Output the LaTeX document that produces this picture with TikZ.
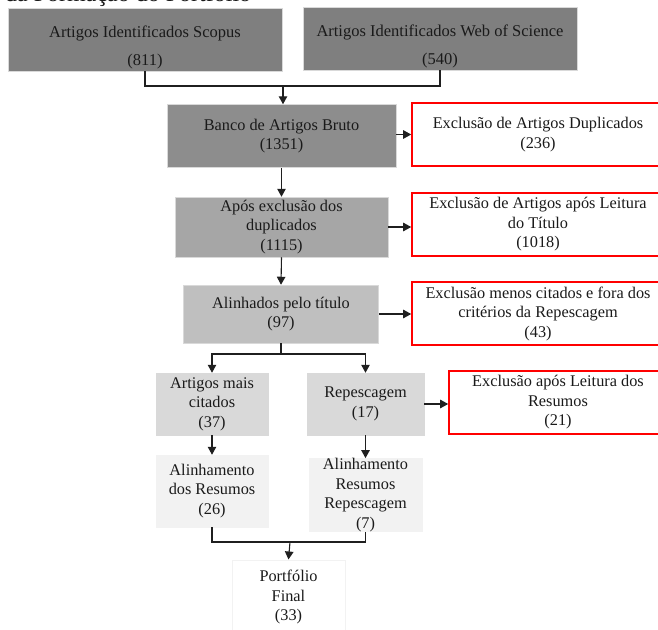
\documentclass[tikz,border=0pt]{standalone}
\usepackage{fontspec}
\setmainfont{Liberation Serif}
\usetikzlibrary{arrows.meta}
\definecolor{txt}{HTML}{1A1A1A}
\definecolor{gA}{HTML}{7F7F7F}
\definecolor{gB}{HTML}{8D8D8D}
\definecolor{gC}{HTML}{A6A6A6}
\definecolor{gD}{HTML}{BFBFBF}
\definecolor{gE}{HTML}{D9D9D9}
\definecolor{gF}{HTML}{F2F2F2}
\definecolor{redb}{HTML}{FF0000}
\definecolor{lnk}{HTML}{1F1F1F}
\tikzset{
  box/.style={rectangle, inner sep=0pt, align=center, text=txt,
    font=\fontsize{16.3}{19.5}\selectfont, draw=white!85!black, line width=0.5pt},
  topbox/.style={box, fill=gA, minimum width=274pt, minimum height=63pt,
    font=\fontsize{16.5}{28}\selectfont},
  redbox/.style={box, draw=redb, line width=1.6pt, fill=white},
  conn/.style={draw=lnk, line width=1.1pt},
  arr/.style={conn, -{Triangle[length=8pt,width=8.5pt]}}
}
\begin{document}
\begin{tikzpicture}[x=1pt,y=-1pt]
\useasboundingbox (0,0) rectangle (658,629);
\node[anchor=base west, font=\fontsize{24}{28}\selectfont, text=txt, inner sep=0pt] (title) at (5,1.5) {da Formação do Portfólio};
\node[topbox] (scopus) at (145,39.5) {\rule{0pt}{28pt}Artigos Identificados Scopus\\(811)};
\node[topbox] (wos) at (440,38.5) {\rule{0pt}{28pt}Artigos Identificados Web of Science\\(540)};
\node[box, fill=gB, minimum width=229pt, minimum height=63pt] (banco) at (281.5,136) {Banco de Artigos Bruto\\(1351)};
\node[redbox, minimum width=252pt, minimum height=63pt] (dup) at (538,134.5) {Exclusão de Artigos Duplicados\\(236)};
\node[box, fill=gC, minimum width=213pt, minimum height=60pt] (apos) at (281.5,227) {Após exclusão dos\\duplicados\\(1115)};
\node[redbox, minimum width=252pt, minimum height=63pt] (tit) at (538,224.5) {Exclusão de Artigos após Leitura\\do Título\\(1018)};
\node[box, fill=gD, minimum width=195pt, minimum height=58pt] (alin) at (281,314) {Alinhados pelo título\\(97)};
\node[redbox, minimum width=252pt, minimum height=63pt] (menos) at (538,313.5) {Exclusão menos citados e fora dos\\critérios da Repescagem\\(43)};
\node[box, fill=gE, minimum width=112pt, minimum height=62pt] (mais) at (212,404) {Artigos mais\\citados\\(37)};
\node[box, fill=gE, minimum width=117pt, minimum height=62pt] (rep) at (365.5,404) {Repescagem\\(17)};
\node[redbox, minimum width=218pt, minimum height=63pt] (resum) at (558,402.5) {Exclusão após Leitura dos\\Resumos\\(21)};
\node[box, fill=gF, draw=gF, minimum width=112pt, minimum height=72pt] (alres) at (212,491) {Alinhamento\\dos Resumos\\(26)};
\node[box, fill=gF, draw=gF, minimum width=113pt, minimum height=72pt] (alrep) at (365.5,495) {Alinhamento\\Resumos\\Repescagem\\(7)};
\node[box, fill=white, draw=gF, line width=1pt, minimum width=113pt, minimum height=74pt] (port) at (288.5,597) {Portfólio\\Final\\(33)};
% connectors
\coordinate (j1) at (283,86);
\draw[conn] (scopus.south) |- (j1) -| (wos.south);
\draw[arr] (j1) -- (j1 |- banco.north);
\draw[arr] (banco.east |- dup.west) -- (dup.west);
\draw[arr] (banco.south) -- (apos.north);
\draw[arr] (apos.east) -- (apos.east -| tit.west);
\draw[arr] (apos.south) -- (alin.north);
\draw[arr] (alin.east) -- (alin.east -| menos.west);
\coordinate (j2) at (281,354);
\draw[conn] (alin.south) -- (j2);
\draw[arr] (j2) -| (mais.north);
\draw[arr] (j2) -| (rep.north);
\draw[arr] (rep.east) -- (rep.east -| resum.west);
\draw[arr] (mais.south) -- (alres.north);
\draw[arr] (rep.south) -- (alrep.north);
\coordinate (j3) at (290,542);
\draw[conn] (alres.south) |- (j3) -| (alrep.south);
\draw[arr] (j3) -- (port.north);
\end{tikzpicture}
\end{document}
